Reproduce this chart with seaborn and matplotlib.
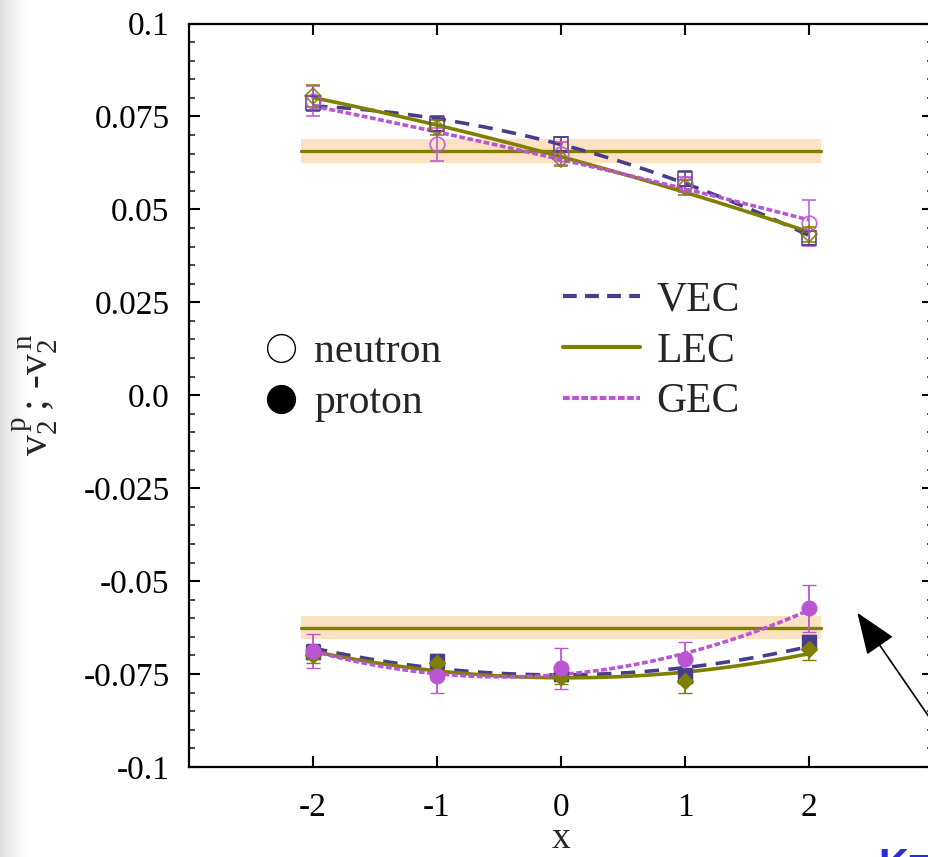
import numpy as np
import pandas as pd
import matplotlib
matplotlib.use("Agg")
import matplotlib.pyplot as plt
import seaborn as sns
from matplotlib.lines import Line2D
from matplotlib.ticker import FixedLocator, FixedFormatter, MultipleLocator

# ---------------- data ----------------
x_vals = [-2, -1, 0, 1, 2]
models = ["VEC", "LEC", "GEC"]

# neutron (plotted as -v2^n, positive)
vec_n = [0.0785, 0.0730, 0.0675, 0.0583, 0.0423]
vec_n_err = [0.0020, 0.0020, 0.0020, 0.0020, 0.0020]
lec_n = [0.0805, 0.0720, 0.0636, 0.0560, 0.0433]
lec_n_err = [0.0030, 0.0020, 0.0020, 0.0020, 0.0020]
gec_n = [0.0792, 0.0675, 0.0650, 0.0567, 0.0463]
gec_n_err = [0.0040, 0.0045, 0.0030, 0.0020, 0.0062]

# proton (v2^p, negative)
vec_p = [-0.0690, -0.0715, -0.0750, -0.0755, -0.0665]
vec_p_err = [0.0020, 0.0020, 0.0020, 0.0020, 0.0020]
lec_p = [-0.0700, -0.0720, -0.0757, -0.0770, -0.0683]
lec_p_err = [0.0020, 0.0020, 0.0020, 0.0030, 0.0030]
gec_p = [-0.0688, -0.0755, -0.0735, -0.0710, -0.0573]
gec_p_err = [0.0046, 0.0046, 0.0054, 0.0046, 0.0063]

# averaged bands
band_center = [0.0657, -0.0625]
band_half = [0.0031, 0.0031]
band_xrange = [-2.1, 2.1]

y_ticks = [0.1, 0.075, 0.05, 0.025, 0.0, -0.025, -0.05, -0.075, -0.1]
y_ticklabels = ["0.1", "0.075", "0.05", "0.025", "0.0", "-0.025", "-0.05", "-0.075", "-0.1"]
x_ticks = [-2, -1, 0, 1, 2]
x_ticklabels = ["-2", "-1", "0", "1", "2"]

colors = {"VEC": "#483d8b", "LEC": "#7f7f00", "GEC": "#ba55d3"}
markers = {"VEC": "s", "LEC": "D", "GEC": "o"}
msizes = {"VEC": 10.0, "LEC": 8.5, "GEC": 10.5}
dash = {"VEC": (4.0, 2.6), "LEC": "", "GEC": (1.6, 0.7)}

# ---------------- style ----------------
sns.set_theme(style="ticks")
plt.rcParams["font.family"] = ["Liberation Serif", "DejaVu Serif"]
plt.rcParams["mathtext.fontset"] = "custom"
plt.rcParams["mathtext.rm"] = "Liberation Serif"
plt.rcParams["mathtext.it"] = "Liberation Serif:italic"

W, H = 929, 857
fig = plt.figure(figsize=(W / 100, H / 100), dpi=100)
fig.patch.set_facecolor("white")

# grey slide shadow on the left edge
bg = fig.add_axes([0, 0, 1, 1], zorder=-10)
grad_x = np.clip(1 - np.arange(W) / 30.0, 0, 1) ** 1.5
img = np.ones((H, W, 3))
shade = 0.13 * grad_x
img -= shade[None, :, None]
bg.imshow(img, aspect="auto", extent=[0, 1, 0, 1], interpolation="bilinear")
bg.set_axis_off()

left, top, bottom, right = 189, 23.5, 767, 933
ax = fig.add_axes([left / W, 1 - bottom / H, (right - left) / W, (bottom - top) / H])
ax.set_facecolor("none")
ax.set_xlim(-3, 3)
ax.set_ylim(-0.1, 0.1)

# bands
for c, h in zip(band_center, band_half):
    ax.fill_between(band_xrange, [c - h] * 2, [c + h] * 2, color="#fde2c2", lw=0, zorder=1)
    ax.plot(band_xrange, [c, c], color=colors["LEC"], lw=2.4, zorder=2)

series = {
    "VEC": (vec_n, vec_n_err, vec_p, vec_p_err),
    "LEC": (lec_n, lec_n_err, lec_p, lec_p_err),
    "GEC": (gec_n, gec_n_err, gec_p, gec_p_err),
}

# fitted curves (quadratic fits of each data set)
xx = np.linspace(-2, 2, 81)
rows = []
for m in models:
    n, ne, p, pe = series[m]
    for branch, vals in (("n", n), ("p", p)):
        coef = np.polyfit(x_vals, vals, 2)
        for xv, yv in zip(xx, np.polyval(coef, xx)):
            rows.append({"x": xv, "y": yv, "model": m, "branch": branch})
curves = pd.DataFrame(rows)

for m in models:
    for branch in ("n", "p"):
        d = curves[(curves.model == m) & (curves.branch == branch)]
        sns.lineplot(data=d, x="x", y="y", ax=ax, color=colors[m], lw=2.6,
                     legend=False, zorder=4, estimator=None, sort=False)
        ln = ax.lines[-1]
        if dash[m]:
            ln.set_dashes(dash[m])

# data points with error bars
for m in models:
    n, ne, p, pe = series[m]
    ax.errorbar(x_vals, n, yerr=ne, fmt=markers[m], ms=msizes[m], mfc="none",
                mec=colors[m], mew=1.3, ecolor=colors[m], elinewidth=1.3,
                capsize=4.7, capthick=1.3, zorder=5, alpha=0.85)
    ax.errorbar(x_vals, p, yerr=pe, fmt=markers[m], ms=msizes[m], mfc=colors[m],
                mec=colors[m], mew=1.0, ecolor=colors[m], elinewidth=1.3,
                capsize=4.7, capthick=1.3, zorder=5)

# axes styling
for s in ax.spines.values():
    s.set_linewidth(1.6)
    s.set_color("black")
ax.yaxis.set_major_locator(FixedLocator(y_ticks))
ax.yaxis.set_major_formatter(FixedFormatter(y_ticklabels))
ax.yaxis.set_minor_locator(MultipleLocator(0.005))
ax.xaxis.set_major_locator(FixedLocator(x_ticks))
ax.xaxis.set_major_formatter(FixedFormatter(x_ticklabels))
ax.tick_params(axis="both", which="major", direction="in", length=8, width=1.5,
               top=True, right=True, labelsize=24, colors="black")
ax.tick_params(axis="y", which="minor", direction="in", length=4, width=1.2,
               right=True, left=True)
ax.tick_params(axis="y", which="major", pad=14)
ax.tick_params(axis="x", which="major", pad=18)

ax.set_xlabel("x", fontsize=27)
ax.xaxis.label.set_va("baseline")
ax.xaxis.set_label_coords((561 - left) / (right - left), (bottom - 848) / (bottom - top))
ax.set_ylabel(r"$\mathrm{v}_{2}^{\,\mathrm{p}}\,\mathrm{;}\,\text{-}\mathrm{v}_{2}^{\,\mathrm{n}}$",
              fontsize=30)
ax.yaxis.set_label_coords((60 - left) / (right - left), 0.5)

# legends
h1 = [Line2D([], [], ls="none", marker="o", ms=20, mfc="white", mec="black", mew=1.0),
      Line2D([], [], ls="none", marker="o", ms=20, mfc="black", mec="black")]
leg1 = ax.legend(h1, ["neutron", "proton"], frameon=False, fontsize=30,
                 loc="upper left", bbox_to_anchor=(260 / W, 1 - 333 / H),
                 bbox_transform=fig.transFigure, handlelength=1.0, handletextpad=0.3,
                 labelspacing=0.3, borderpad=0, borderaxespad=0)
ax.add_artist(leg1)
h2 = [Line2D([], [], color=colors["VEC"], lw=3, dashes=(3.3, 2.0)),
      Line2D([], [], color=colors["LEC"], lw=3),
      Line2D([], [], color=colors["GEC"], lw=3, dashes=(1.6, 0.6))]
ax.legend(h2, models, frameon=False, fontsize=30, loc="upper left",
          bbox_to_anchor=(563 / W, 1 - 281 / H), bbox_transform=fig.transFigure,
          handlelength=1.85, handletextpad=0.4, labelspacing=0.3,
          borderpad=0, borderaxespad=0)

# arrow from the slide
ax.annotate("", xy=(2.39, -0.0585), xytext=(3.05, -0.0905),
            arrowprops=dict(arrowstyle="-|>,head_length=2.2,head_width=0.85",
                            color="black", lw=1.2, shrinkA=0, shrinkB=0),
            annotation_clip=False, zorder=6)

fig.text(878 / W, 1 - 847 / H, "K=", color="#2b2bd9", fontsize=30, fontweight="bold",
         family=["Liberation Sans", "DejaVu Sans"], ha="left", va="top")

fig.savefig("out.png", dpi=100)
